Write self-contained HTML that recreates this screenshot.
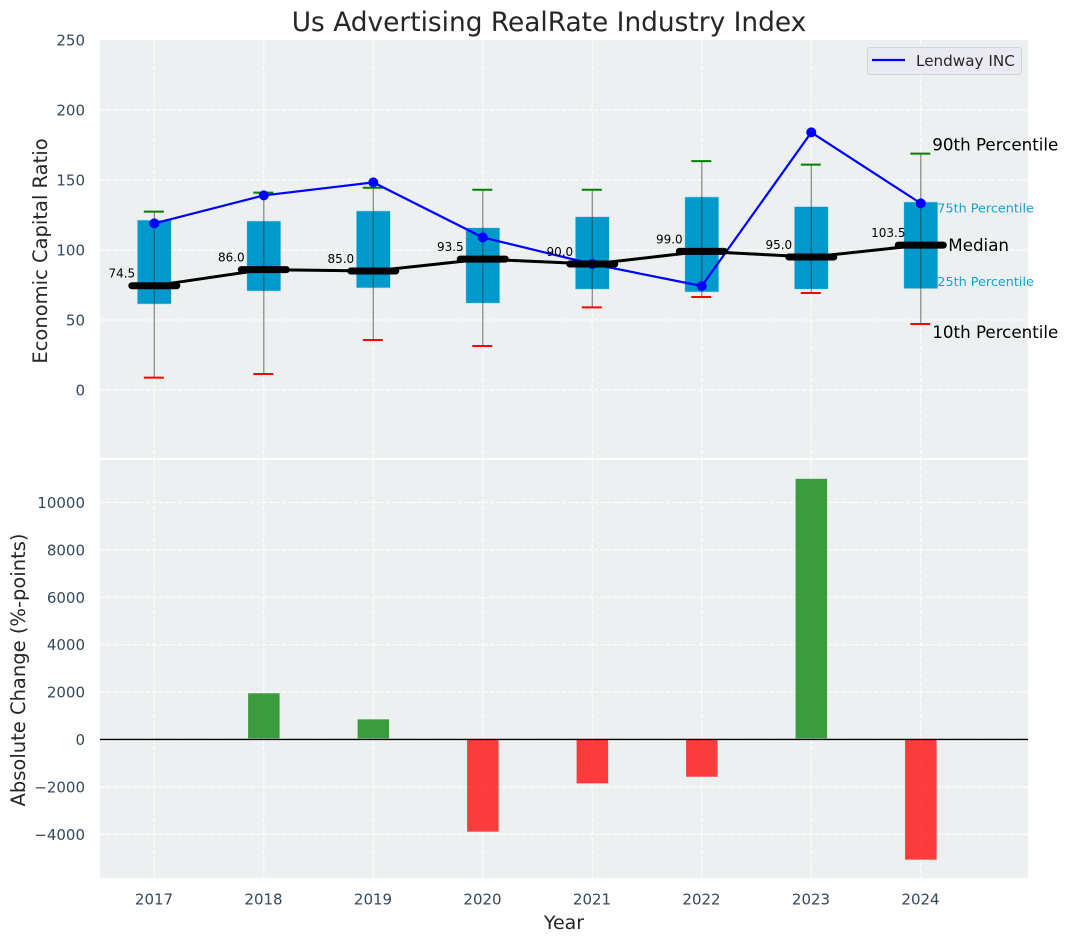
<!DOCTYPE html>
<html>
<head>
<meta charset="utf-8">
<title>Us Advertising RealRate Industry Index</title>
<style>
html,body{margin:0;padding:0;background:#fff;width:1067px;height:942px;overflow:hidden}
svg{display:block;font-family:"DejaVu Sans","Liberation Sans",sans-serif}
</style>
</head>
<body>
<svg id="chart" xmlns="http://www.w3.org/2000/svg" width="1067" height="942" viewBox="0 0 1067 942">
  <rect width="1067" height="942" fill="#ffffff"/>
  <text x="549" y="31" font-size="26.4" text-anchor="middle" fill="#262626">Us Advertising RealRate Industry Index</text>
  <rect x="100" y="40" width="928" height="418" fill="#ecf0f1"/>
  <rect x="100" y="460" width="928" height="418" fill="#ecf0f1"/>
  <g id="grid"></g>
  <g id="boxes"></g>
  <g id="medianLine"></g>
  <g id="company"></g>
  <g id="medianBars"></g>
  <g id="bars"></g>
  <g id="ticks"></g>
  <g id="notes"></g>
  <text transform="translate(47,251) rotate(-90)" font-size="19.5" text-anchor="middle" fill="#262626">Economic Capital Ratio</text>
  <text transform="translate(25,670) rotate(-90)" font-size="19.5" text-anchor="middle" fill="#262626">Absolute Change (%-points)</text>
  <text x="564" y="929" font-size="19" text-anchor="middle" fill="#262626">Year</text>
  <g>
    <rect x="867.5" y="47.5" width="154" height="27" rx="3" fill="#eaeaf2" fill-opacity="0.9" stroke="#d4d4d8" stroke-width="1"/>
    <line x1="872" y1="60" x2="905" y2="60" stroke="#0000ff" stroke-width="2.2"/>
    <text x="916" y="66" font-size="15.2" fill="#262626">Lendway INC</text>
  </g>
</svg>
<script>
var years = [2017, 2018, 2019, 2020, 2021, 2022, 2023, 2024];
var p10 = [8.8, 11.4, 35.7, 31.4, 59, 66.4, 69.3, 47.1];
var q1 = [61.4, 70.7, 72.9, 62, 72, 70, 72, 72.4];
var medians = [74.5, 86.0, 85.0, 93.5, 90.0, 99.0, 95.0, 103.5];
var q3 = [121.4, 120.7, 127.9, 115.9, 123.8, 137.9, 131, 134.3];
var p90 = [127.4, 141, 144.5, 143, 143, 163.5, 161, 168.8];
var lendway = [119, 139, 148.3, 109, 90, 74.3, 184, 133.3];
var changes = [0, 1950, 850, -3890, -1850, -1570, 11000, -5070];
var topTicks = [0, 50, 100, 150, 200, 250];
var bottomTicks = [-4000, -2000, 0, 2000, 4000, 6000, 8000, 10000];

var NS = 'http://www.w3.org/2000/svg';
function xScale(v) { return 154.3 + (v - 2017) * 109.5; }
function yTop(v) { return 390 - v * 1.4; }
function yBottom(v) { return 739.5 - v * 0.0237; }
function mk(parent, tag, attrs, txt) {
  var el = document.createElementNS(NS, tag);
  for (var k in attrs) { el.setAttribute(k, attrs[k]); }
  if (txt !== undefined) { el.textContent = txt; }
  document.getElementById(parent).appendChild(el);
  return el;
}
var gridStyle = { stroke: '#ffffff', 'stroke-width': 1.2, 'stroke-dasharray': '4.5 2', 'stroke-opacity': 0.9 };
function withStyle(o) { for (var k in gridStyle) { o[k] = gridStyle[k]; } return o; }

years.forEach(function (yr) {
  var x = xScale(yr);
  var a = mk('grid', 'line', withStyle({ x1: x, x2: x, y1: 40, y2: 458 }));
  
  
  var b = mk('grid', 'line', withStyle({ x1: x, x2: x, y1: 460, y2: 878 }));
  
  
  var t = mk('ticks', 'text', { x: x - 0.3, y: 904.5, 'font-size': 15, 'text-anchor': 'middle', fill: '#34495e' }, String(yr));
  
  
});

topTicks.forEach(function (v) {
  var y = yTop(v);
  if (v < 250) {
    var g = mk('grid', 'line', withStyle({ x1: 100, x2: 1028, y1: y, y2: y }));
    
    
  }
  var t = mk('ticks', 'text', { x: 85, y: y + 5.5, 'font-size': 15, 'text-anchor': 'end', fill: '#34495e' }, String(v));
  
  
});

bottomTicks.forEach(function (v) {
  var y = yBottom(v);
  var g = mk('grid', 'line', withStyle({ x1: 100, x2: 1028, y1: y, y2: y }));
  
  
  var label = v < 0 ? '\u2212' + Math.abs(v) : String(v);
  var t = mk('ticks', 'text', { x: 85, y: y + 5.5, 'font-size': 15, 'text-anchor': 'end', fill: '#34495e' }, label);
  
  
});

years.forEach(function (yr, i) {
  var x = xScale(yr);
  var box = mk('boxes', 'rect', { x: x - 17, y: yTop(q3[i]), width: 34, height: yTop(q1[i]) - yTop(q3[i]), fill: '#0099cc', stroke: '#b5e0ee', 'stroke-width': 0.6 });
  
  
  var w = mk('boxes', 'line', { x1: x, x2: x, y1: yTop(p10[i]), y2: yTop(p90[i]), stroke: '#333333', 'stroke-opacity': 0.55, 'stroke-width': 1.3 });
  
  
  var c1 = mk('boxes', 'line', { x1: x - 10.5, x2: x + 9.5, y1: yTop(p90[i]), y2: yTop(p90[i]), stroke: '#008000', 'stroke-width': 2 });
  
  
  var c2 = mk('boxes', 'line', { x1: x - 10.5, x2: x + 9.5, y1: yTop(p10[i]), y2: yTop(p10[i]), stroke: '#ff0000', 'stroke-width': 2 });
  
  
  var m = mk('medianBars', 'line', { x1: x - 22.5, x2: x + 22.5, y1: yTop(medians[i]), y2: yTop(medians[i]), stroke: '#000000', 'stroke-width': 7, 'stroke-linecap': 'round' });
  
  
  var v = mk('medianBars', 'text', { x: x - 32.5, y: yTop(medians[i]) - 8, 'font-size': 12, 'text-anchor': 'middle', fill: '#000000' }, medians[i].toFixed(1));
  
  
  var dot = mk('company', 'circle', { cx: x, cy: yTop(lendway[i]), r: 5, fill: '#0000ff' });
  
  
  var h = Math.abs(yBottom(changes[i]) - yBottom(0));
  var bar = mk('bars', 'rect', { x: x - 15.7, y: Math.min(yBottom(changes[i]), yBottom(0)), width: 31.5, height: h, fill: changes[i] >= 0 ? '#008000' : '#ff0000', 'fill-opacity': 0.75 });
  
  
});

var medianPts = years.map(function (yr, i) { return xScale(yr) + ',' + yTop(medians[i]); }).join(' ');
var ml = mk('medianLine', 'polyline', { points: medianPts, fill: 'none', stroke: '#000000', 'stroke-width': 3 });



var companyPts = years.map(function (yr, i) { return xScale(yr) + ',' + yTop(lendway[i]); }).join(' ');
var cl = mk('company', 'polyline', { points: companyPts, fill: 'none', stroke: '#0000ff', 'stroke-width': 2.2 });



var zeroShade = mk('bars', 'line', { x1: 100, x2: 1028, y1: yBottom(0) - 0.6, y2: yBottom(0) - 0.6, stroke: '#bbbbbb', 'stroke-width': 1 });


var zero = mk('bars', 'line', { x1: 100, x2: 1028, y1: yBottom(0), y2: yBottom(0), stroke: '#000000', 'stroke-width': 1.2 });



var last = years.length - 1;
var lastX = xScale(years[last]);
var n1 = mk('notes', 'text', { x: lastX + 11.5, y: yTop(p90[last]) - 3, 'font-size': 16.7, fill: '#000000' }, '90th Percentile');


var n2 = mk('notes', 'text', { x: lastX + 16.5, y: yTop(q3[last]) + 10.5, 'font-size': 12.8, fill: '#0099cc', 'fill-opacity': 0.9 }, '75th Percentile');


var n3 = mk('notes', 'text', { x: lastX + 27.5, y: yTop(medians[last]) + 6, 'font-size': 16.7, fill: '#000000' }, 'Median');


var n4 = mk('notes', 'text', { x: lastX + 16.5, y: yTop(q1[last]) - 2.5, 'font-size': 12.8, fill: '#0099cc', 'fill-opacity': 0.9 }, '25th Percentile');


var n5 = mk('notes', 'text', { x: lastX + 11.5, y: yTop(p10[last]) + 14, 'font-size': 16.7, fill: '#000000' }, '10th Percentile');


</script>
</body>
</html>
